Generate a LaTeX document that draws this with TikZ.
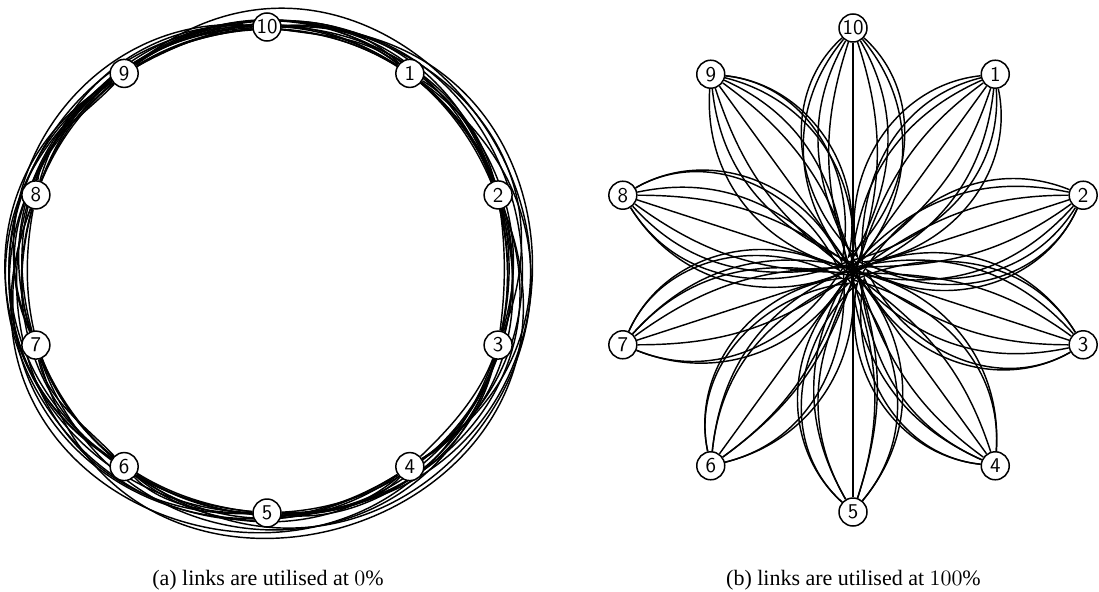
\documentclass[tikz,border=0pt]{standalone}
\usepackage{fontspec}
\setmainfont{Liberation Serif}
\usepackage{tikz}
\usetikzlibrary{calc, backgrounds}
\tikzset{
  vtx/.style={
    circle, draw, fill=white, line width=0.75pt,
    minimum size=14pt, inner sep=0pt,
    font=\fontsize{10.5}{12}\selectfont\sffamily
  },
  lnk/.style={line width=0.72pt, black},
  subcap/.style={anchor=base, font=\fontsize{11}{13}\selectfont},
}

\begin{document}
\begin{tikzpicture}[x=0.5pt, y=0.5pt]
\useasboundingbox (0,0) rectangle (1099,591);

\coordinate (ac) at (267,321);
\coordinate (bc) at (853,321);
\foreach \k in {1,...,10} {
  \node[vtx] (a\k) at ($(ac)+({90-36*\k}:243)$) {\k};
  \node[vtx] (b\k) at ($(bc)+({90-36*\k}:242)$) {\k};
}

\begin{scope}[on background layer]
\foreach \i in {1,...,10}
  \foreach \d/\lo in {1/0.87, 2/0.94, 3/1.07, 4/1.30, 5/1.70} {
    \pgfmathtruncatemacro\j{mod(\i+\d-1,10)+1}
    \pgfmathsetmacro\eo{22/(1+\d)*sin(97*\i+53*\d)}
    \pgfmathsetmacro\ei{22/(1+\d)*sin(61*\i+131*\d)}
    \pgfmathsetmacro\lm{\lo*(1+0.045*sin(41*\i+73*\d))}
    \draw[lnk] (a\i) to[out=-36*\i+\eo, in=180-36*\j-\ei, looseness=\lm] (a\j);
  }
\foreach \i in {1,...,9} {
  \pgfmathtruncatemacro\n{\i+1}
  \foreach \j in {\n,...,10} {
    \pgfmathtruncatemacro\d{\j-\i}
    \pgfmathsetmacro\al{{0,48,-40,30,-18,0,18,-30,40,-48}[\d]}
    \pgfmathsetmacro\be{{0,48,-40,30,-18,0,18,-30,40,-48}[10-\d]}
    \pgfmathsetmacro\rm{{0,14,10,6,3,0,-3,-6,-10,-14}[\d]}
    \draw[lnk] (b\i) to[out=270-36*\i+\al, in=90-36*\i-\al]
      ($(bc)+({90-18*(\i+\j)}:\rm)$)
      to[out=90-36*\j+\be, in=270-36*\j-\be] (b\j);
  }
}
\end{scope}

\node[subcap] (capa) at (268,6) {(a) links are utilised at $0\%$};
\node[subcap] (capb) at (853.5,6) {(b) links are utilised at $100\%$};

\end{tikzpicture}
\end{document}
